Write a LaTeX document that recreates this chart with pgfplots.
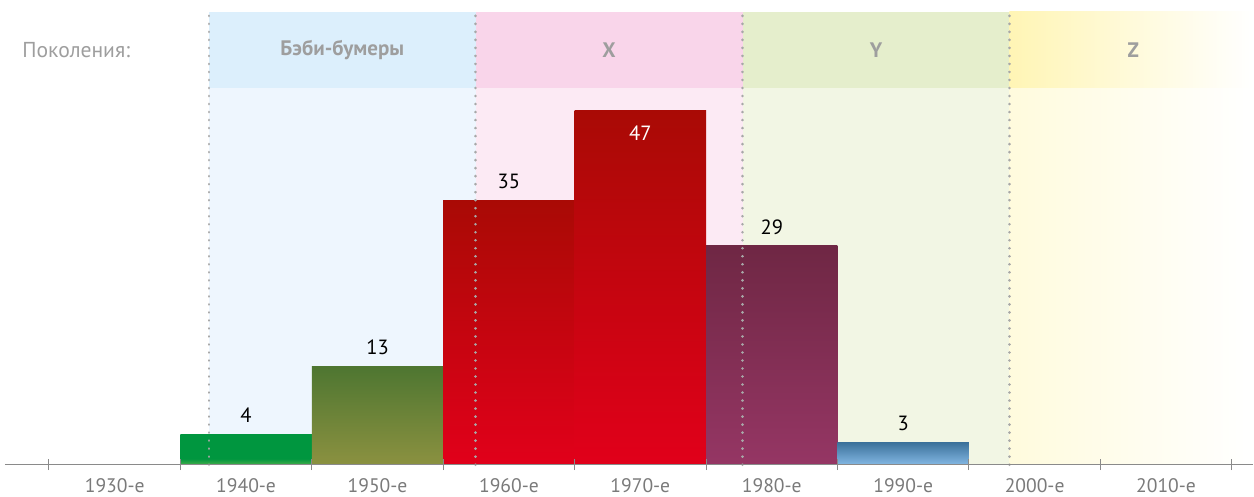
\documentclass[border=0pt]{standalone}
\usepackage{pgfplots}
\pgfplotsset{compat=1.18}
\usepackage{fontspec}
\setmainfont{PT Sans}
\definecolor{bbH}{HTML}{DCEFFC}
\definecolor{bbL}{HTML}{EEF6FE}
\definecolor{xH}{HTML}{F9D5EA}
\definecolor{xL}{HTML}{FCEAF4}
\definecolor{yH}{HTML}{E5EECC}
\definecolor{yL}{HTML}{F2F6E4}
\definecolor{zH}{HTML}{FFF5B5}
\definecolor{zL}{HTML}{FFFBDD}
\definecolor{gtop}{HTML}{00963F}
\definecolor{gbot}{HTML}{45AD4A}
\definecolor{otop}{HTML}{4E7631}
\definecolor{obot}{HTML}{8B9140}
\definecolor{rtop}{HTML}{A90A05}
\definecolor{rbot}{HTML}{E1001A}
\definecolor{ptop}{HTML}{6F2744}
\definecolor{pbot}{HTML}{953664}
\definecolor{btop}{HTML}{3A7099}
\definecolor{bbot}{HTML}{83B7E3}
\definecolor{axgray}{HTML}{8A8A8A}
\definecolor{lblgray}{HTML}{7A7A7A}
\definecolor{hdgray}{HTML}{9E9E9E}
\definecolor{dotgray}{HTML}{A8A8A8}
\pgfdeclareverticalshading{greenbar}{100bp}{color(0bp)=(gbot); color(25bp)=(gbot); color(35bp)=(gtop); color(100bp)=(gtop)}
\begin{document}
\begin{tikzpicture}
\begin{axis}[
  scale only axis, width=624.55pt, height=232.5pt,
  xmin=-0.335, xmax=9.1635, ymin=0, ymax=61.59,
  clip=false, axis on top,
  axis x line*=bottom, axis y line=none,
  x axis line style={draw=axgray, line width=0.8pt},
  xtick={0.5,1.5,2.5,3.5,4.5,5.5,6.5,7.5,8.5},
  xticklabels={1930-е,1940-е,1950-е,1960-е,1970-е,1980-е,1990-е,2000-е,2010-е},
  major tick length=0pt,
  minor xtick={0,1,2,3,4,5,6,7,8,9},
  minor tick length=5.5pt,
  tick align=center,
  minor tick style={draw=axgray, line width=0.5pt},
  xticklabel style={font=\fontsize{9.8}{12}\selectfont, text=lblgray, anchor=base, yshift=-13.8pt, inner sep=0pt},
  ytick=\empty,
  bar width=1,
  /pgf/number format/assume math mode=true,
  every node near coord/.append style={font=\fontsize{10.3}{12}\selectfont, text=black, anchor=center, yshift=9.5pt},
]
% generation bands
\addplot[draw=none, fill=bbL] coordinates {(1.217,0) (1.217,49.93) (3.247,49.93) (3.247,0)} --cycle;
\addplot[draw=none, fill=bbH] coordinates {(1.217,49.93) (1.217,60) (3.247,60) (3.247,49.93)} --cycle;
\addplot[draw=none, fill=xL] coordinates {(3.247,0) (3.247,49.93) (5.278,49.93) (5.278,0)} --cycle;
\addplot[draw=none, fill=xH] coordinates {(3.247,49.93) (3.247,60) (5.278,60) (5.278,49.93)} --cycle;
\addplot[draw=none, fill=yL] coordinates {(5.278,0) (5.278,49.93) (7.308,49.93) (7.308,0)} --cycle;
\addplot[draw=none, fill=yH] coordinates {(5.278,49.93) (5.278,60) (7.308,60) (7.308,49.93)} --cycle;
\addplot[draw=none, left color=zL, right color=white] coordinates {(7.308,0) (7.308,49.93) (9.1635,49.93) (9.1635,0)} --cycle;
\addplot[draw=none, left color=zH, right color=white] coordinates {(7.308,49.93) (7.308,60) (9.1635,60) (9.1635,49.93)} --cycle;
% bars
\addplot[ybar, bar shift=0pt, draw=none, shading=greenbar, nodes near coords] coordinates {(1.5,4)};
\addplot[ybar, bar shift=0pt, draw=none, top color=otop, bottom color=obot, nodes near coords] coordinates {(2.5,13)};
\addplot[ybar, bar shift=0pt, draw=none, top color=rtop, bottom color=rbot, nodes near coords] coordinates {(3.5,35)};
\addplot[ybar, bar shift=0pt, draw=none, top color=rtop, bottom color=rbot, nodes near coords,
  every node near coord/.append style={text=white, yshift=-21pt}] coordinates {(4.5,47)};
\addplot[ybar, bar shift=0pt, draw=none, top color=ptop, bottom color=pbot, nodes near coords] coordinates {(5.5,29)};
\addplot[ybar, bar shift=0pt, draw=none, top color=btop, bottom color=bbot, nodes near coords] coordinates {(6.5,3)};
% dotted separators
\addplot[draw=dotgray, line width=1.4pt, line cap=round, dash pattern=on 0.01pt off 4pt] coordinates {(1.217,0) (1.217,60)};
\addplot[draw=dotgray, line width=1.4pt, line cap=round, dash pattern=on 0.01pt off 4pt] coordinates {(3.247,0) (3.247,60)};
\addplot[draw=dotgray, line width=1.4pt, line cap=round, dash pattern=on 0.01pt off 4pt] coordinates {(5.278,0) (5.278,60)};
\addplot[draw=dotgray, line width=1.4pt, line cap=round, dash pattern=on 0.01pt off 4pt] coordinates {(7.308,0) (7.308,60)};
% texts
\node[anchor=west, text=hdgray, font=\fontsize{10.8}{12}\selectfont, inner sep=0pt] at (axis cs:-0.205,54.97) {Поколения:};
\node[text=hdgray, font=\bfseries\fontsize{10.5}{12}\selectfont] at (axis cs:2.232,54.97) {Бэби-бумеры};
\node[text=hdgray, font=\bfseries\fontsize{10.5}{12}\selectfont] at (axis cs:4.262,54.97) {X};
\node[text=hdgray, font=\bfseries\fontsize{10.5}{12}\selectfont] at (axis cs:6.293,54.97) {Y};
\node[text=hdgray, font=\bfseries\fontsize{10.5}{12}\selectfont] at (axis cs:8.251,54.97) {Z};
\path (axis cs:-0.3726,-4.238) rectangle (axis cs:9.1635,61.59);
\end{axis}
\end{tikzpicture}
\end{document}
